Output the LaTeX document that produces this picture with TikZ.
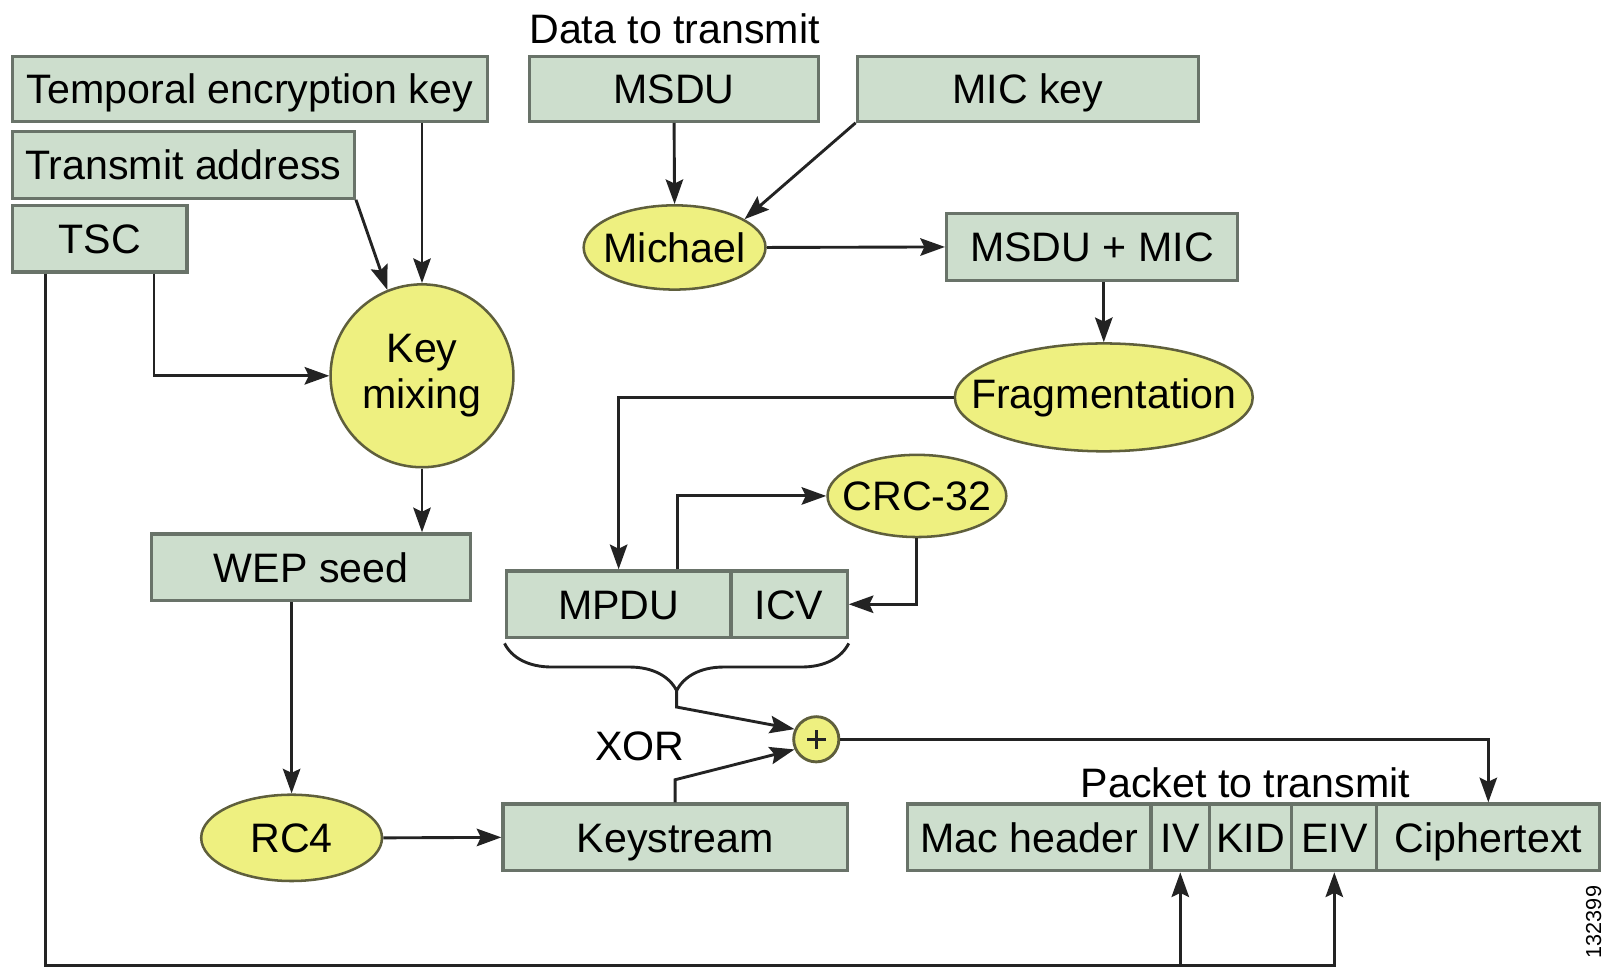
\documentclass[tikz,border=0pt]{standalone}
\usepackage{fontspec}
\setmainfont{Liberation Sans}
\usetikzlibrary{arrows.meta,calc,shapes.geometric,decorations.pathreplacing}
\definecolor{boxfill}{RGB}{205,222,205}
\definecolor{boxdraw}{RGB}{105,115,105}
\definecolor{ovalfill}{RGB}{238,240,128}
\definecolor{ovaldraw}{RGB}{95,95,60}
\definecolor{linecol}{RGB}{35,35,35}
\tikzset{
  boxnode/.style={draw=boxdraw, fill=boxfill, line width=0.9pt, inner sep=0pt, rectangle, text height=8.2pt, text depth=0pt},
  ovalnode/.style={draw=ovaldraw, fill=ovalfill, line width=0.7pt, ellipse, inner sep=0pt},
  arr/.style={draw=linecol, line width=0.8pt, -{Stealth[length=0.24cm,width=0.17cm,inset=0.04cm]}},
  plain/.style={draw=linecol, line width=0.8pt},
  lbl/.style={inner sep=0pt}
}
\newcommand{\zw}[1]{\makebox[0pt]{#1}}
\begin{document}
\begin{tikzpicture}[x=0.01cm,y=-0.01cm,font=\fontsize{11.4}{13}\selectfont]
\useasboundingbox (0,0) rectangle (1568,945);
% top row
\node[lbl] (data) at (657,28) {Data to transmit};
\node[boxnode, minimum width=4.63cm, minimum height=0.63cm] (temporal) at (243.5,86.5) {Temporal encryption key};
\node[boxnode, minimum width=3.33cm, minimum height=0.65cm] (transmit) at (178.5,160.5) {Transmit address};
\node[boxnode, minimum width=1.70cm, minimum height=0.65cm] (tsc) at (97,232.5) {TSC};
\node[boxnode, minimum width=2.81cm, minimum height=0.63cm] (msdu) at (656.5,86.5) {MSDU};
\node[boxnode, minimum width=3.32cm, minimum height=0.63cm] (mickey) at (1001,86.5) {MIC key};
\node[ovalnode, minimum width=1.77cm, minimum height=0.82cm] (michael) at (657,241) {\zw{Michael}};
\node[boxnode, minimum width=2.83cm, minimum height=0.65cm] (msdumic) at (1063.5,240.5) {MSDU + MIC};
\node[ovalnode, circle, minimum size=1.78cm] (keymix) at (411,366) {\zw{\shortstack{Key\\[-1pt]mixing}}};
\node[ovalnode, minimum width=2.90cm, minimum height=1.05cm] (frag) at (1075,387) {\zw{Fragmentation}};
\node[ovalnode, minimum width=1.74cm, minimum height=0.80cm] (crc) at (893,483) {\zw{CRC-32}};
\node[boxnode, minimum width=3.10cm, minimum height=0.65cm] (wep) at (303,552.5) {WEP seed};
\node[boxnode, minimum width=2.19cm, minimum height=0.65cm] (mpdu) at (602.5,588.5) {MPDU};
\node[boxnode, minimum width=1.13cm, minimum height=0.65cm] (icv) at (768.5,588.5) {ICV};
\node[lbl] (xortext) at (623,727) {XOR};
\node[ovalnode, circle, minimum size=0.44cm, line width=0.8pt] (xor) at (795,720) {};
\draw[linecol, line width=0.8pt] ($(xor.center)+(-9,0)$) -- ($(xor.center)+(9,0)$) ($(xor.center)+(0,-9)$) -- ($(xor.center)+(0,9)$);
\node[ovalnode, minimum width=1.76cm, minimum height=0.84cm] (rc4) at (284,816) {\zw{RC4}};
\node[boxnode, minimum width=3.35cm, minimum height=0.65cm] (keystream) at (657.5,815.5) {Keystream};
\node[lbl] (packet) at (1213,762) {Packet to transmit};
\node[boxnode, minimum width=2.37cm, minimum height=0.65cm] (mac) at (1002.5,815.5) {Mac header};
\node[boxnode, minimum width=0.57cm, minimum height=0.65cm] (iv) at (1149.5,815.5) {IV};
\node[boxnode, minimum width=0.80cm, minimum height=0.65cm] (kid) at (1218,815.5) {KID};
\node[boxnode, minimum width=0.83cm, minimum height=0.65cm] (eiv) at (1299.5,815.5) {EIV};
\node[boxnode, minimum width=2.17cm, minimum height=0.65cm] (cipher) at (1449.5,815.5) {Ciphertext};
\node[lbl, rotate=90, font=\fontsize{6}{7}\selectfont] (fig) at (1552,898) {132399};
% connectors
\draw[arr] (temporal.south -| keymix.north) -- (keymix.north);
\draw[arr] (transmit.south east) -- (keymix.112);
\draw[arr] ($(tsc.south)+(53,0)$) |- (keymix.west);
\coordinate (bot) at (46,940);
\draw[arr] ($(tsc.south west)+(34,0)$) |- (eiv.south |- bot) -- (eiv.south);
\draw[arr] (iv.south |- bot) -- (iv.south);
\draw[arr] (keymix.south) -- (keymix.south |- wep.north);
\draw[arr] (wep.south -| rc4.north) -- (rc4.north);
\draw[arr] (rc4.east) -- (keystream.west);
\draw[arr] (msdu.south) -- (michael.north);
\draw[arr] (mickey.south west) -- (michael.22);
\draw[arr] (michael.east) -- (msdumic.west);
\draw[arr] (msdumic.south -| frag.north) -- (frag.north);
\draw[arr] (frag.west) -| (mpdu.north);
\draw[arr] ($(mpdu.north)+(57,0)$) |- (crc.west);
\draw[arr] (crc.south) |- (icv.east);
\draw[plain, decorate, decoration={brace, mirror, amplitude=0.46cm}] ($(mpdu.south west)+(0,4)$) -- ($(icv.south east)+(0,4)$);
\coordinate (btip) at ($(mpdu.south west)!0.5!(icv.south east)+(0,50)$);
\draw[arr] (btip) -- ++(0,16) -- (xor.155);
\draw[arr] (keystream.north) -- ++(0,-22) -- (xor.205);
\draw[arr] (xor.east) -| (cipher.north);
\end{tikzpicture}
\end{document}
